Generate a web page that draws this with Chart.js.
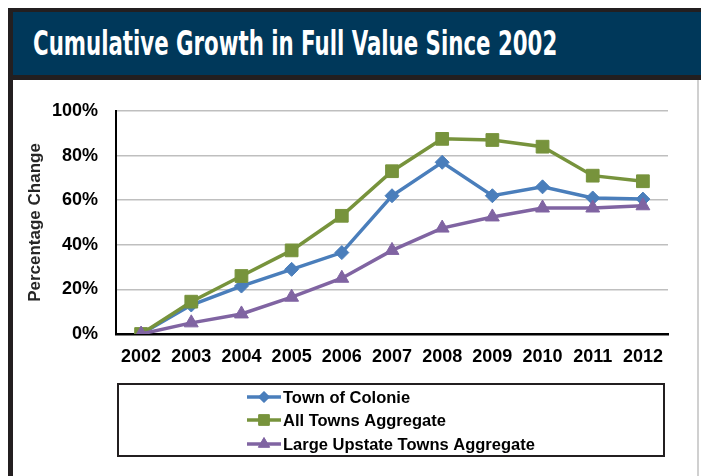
<!DOCTYPE html>
<html>
<head>
<meta charset="utf-8">
<script src="https://cdn.jsdelivr.net/npm/chart.js@4.4.1/dist/chart.umd.min.js"></script>
<style>
  body { margin: 0; background: #fff; width: 701px; height: 476px; overflow: hidden; position: relative; }
  .bar { position: absolute; background: #231f20; }
  #band { position: absolute; left: 13px; top: 12px; width: 688px; height: 63px; background: #00385a; }
  #title { position: absolute; left: 33px; top: 27px; font: bold 33px "DejaVu Sans Condensed", sans-serif; line-height: 33px; color: #fff; white-space: nowrap; transform-origin: 0 0; }
  #edge { position: absolute; left: 697px; top: 80px; width: 2px; height: 396px; background: #d0d0d0; }
  canvas { position: absolute; left: 0; top: 0; }
</style>
</head>
<body>
<div class="bar" style="left:8px;top:8px;width:693px;height:4px"></div>
<div class="bar" style="left:8px;top:8px;width:5px;height:468px"></div>
<div id="band"></div>
<div class="bar" style="left:13px;top:75px;width:688px;height:5px"></div>
<div id="edge"></div>
<div id="title">Cumulative Growth in Full Value Since 2002</div>
<canvas id="growthChart" width="701" height="476"></canvas>
<script>
var years = ['2002', '2003', '2004', '2005', '2006', '2007', '2008', '2009', '2010', '2011', '2012'];
var colonie = [0, 13, 21.5, 29, 36.5, 62, 77, 62, 66, 61, 60.5];
var allTowns = [0, 14.5, 26, 37.5, 53, 73, 87.5, 87, 84, 71, 68.5];
var upstateTowns = [0, 5, 9, 16.5, 25, 37.5, 47.5, 52.5, 56.5, 56.5, 57.5];

var seriesNames = ['Town of Colonie', 'All Towns Aggregate', 'Large Upstate Towns Aggregate'];
var seriesColors = ['#4a7ebb', '#77933c', '#8064a2'];

// squeeze the title to the width of the condensed face in the original
var title = document.getElementById('title');
title.style.transform = 'scaleX(' + (524 / title.offsetWidth) + ')';

var FONT = '"Liberation Sans", Arial, sans-serif';

// legend box drawn under the plot, stacked vertically
var boxLegend = {
    id: 'boxLegend',
    afterDraw: function (chart) {
        var ctx = chart.ctx;
        ctx.save();
        ctx.strokeStyle = '#231f20';
        ctx.lineWidth = 2;
        ctx.strokeRect(118, 384, 546, 72);
        var rows = [397, 420, 444];
        chart.data.datasets.forEach(function (ds, i) {
            var y = rows[i];
            ctx.strokeStyle = ds.borderColor;
            ctx.lineWidth = 3.5;
            ctx.beginPath();
            ctx.moveTo(247, y);
            ctx.lineTo(281, y);
            ctx.stroke();
            ctx.fillStyle = ds.borderColor;
            ctx.lineWidth = 1;
            Chart.helpers.drawPoint(ctx, {
                pointStyle: ds.pointStyle,
                radius: ds.legendRadius,
                borderWidth: 1,
                rotation: 0
            }, 264, y);
            ctx.fill();
            ctx.fillStyle = '#000';
            ctx.font = 'bold 16.5px ' + FONT;
            ctx.textBaseline = 'middle';
            ctx.fillText(ds.label, 283, y + 1);
        });
        ctx.restore();
    }
};

var ctx = document.getElementById('growthChart').getContext('2d');
new Chart(ctx, {
    type: 'line',
    data: {
        labels: years,
        datasets: [{
            label: seriesNames[0],
            data: colonie,
            borderColor: seriesColors[0],
            backgroundColor: seriesColors[0],
            pointStyle: 'rectRot',
            pointRadius: 7,
            legendRadius: 5.5,
            order: 3
        }, {
            label: seriesNames[1],
            data: allTowns,
            borderColor: seriesColors[1],
            backgroundColor: seriesColors[1],
            pointStyle: 'rect',
            pointRadius: 9,
            legendRadius: 7.5,
            order: 2
        }, {
            label: seriesNames[2],
            data: upstateTowns,
            borderColor: seriesColors[2],
            backgroundColor: seriesColors[2],
            pointStyle: 'triangle',
            pointRadius: 8,
            legendRadius: 6.5,
            order: 1
        }]
    },
    options: {
        responsive: false,
        animation: false,
        devicePixelRatio: 1,
        elements: {
            line: { borderWidth: 3.5, tension: 0 },
            point: { borderWidth: 1 }
        },
        layout: {
            padding: { left: 0, top: 111, right: 33, bottom: 102 }
        },
        plugins: {
            legend: { display: false },
            tooltip: { enabled: false }
        },
        scales: {
            x: {
                offset: true,
                grid: { display: false, drawTicks: false },
                border: { display: true, color: '#000', width: 2.5 },
                ticks: {
                    color: '#000',
                    padding: 12,
                    maxRotation: 0,
                    font: { family: FONT, size: 18, weight: 'bold' }
                },
                afterFit: function (s) { s.height = 40; }
            },
            y: {
                min: 0,
                max: 100,
                grid: { color: '#bfbfbf', lineWidth: 1.5, drawTicks: false },
                border: { display: true, color: '#000', width: 2 },
                ticks: {
                    stepSize: 20,
                    color: '#000',
                    padding: 18,
                    font: { family: FONT, size: 18, weight: 'bold' },
                    callback: function (v) { return v + '%'; }
                },
                title: {
                    display: true,
                    text: 'Percentage Change',
                    color: '#262626',
                    padding: { top: 25, bottom: 0 },
                    font: { family: FONT, size: 17, weight: 'bold' }
                },
                afterFit: function (s) { s.width = 116; }
            }
        }
    },
    plugins: [boxLegend]
});
</script>
</body>
</html>
